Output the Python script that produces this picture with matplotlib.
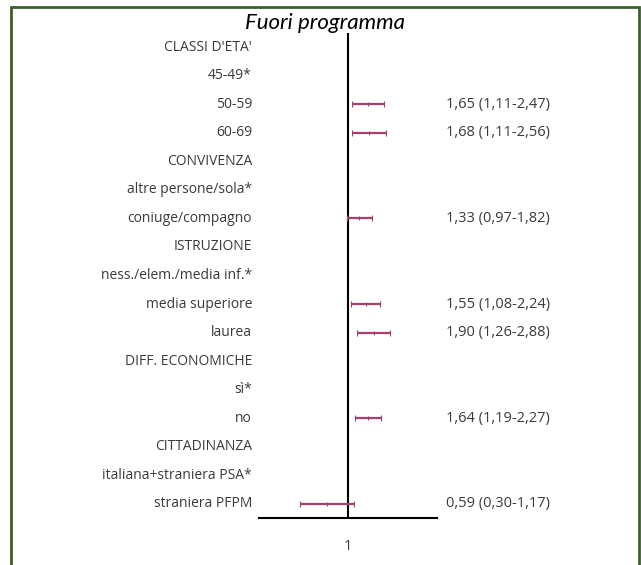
import numpy as np
import matplotlib.pyplot as plt
from matplotlib.patches import Rectangle

righe = ["CLASSI D'ETA'", "45-49*", "50-59", "60-69",
         "CONVIVENZA", "altre persone/sola*", "coniuge/compagno",
         "ISTRUZIONE", "ness./elem./media inf.*", "media superiore", "laurea",
         "DIFF. ECONOMICHE", "sì*", "no",
         "CITTADINANZA", "italiana+straniera PSA*", "straniera PFPM"]
nan = np.nan
odds_ratio = [nan, nan, 1.65, 1.68, nan, nan, 1.33, nan, nan, 1.55, 1.90, nan, nan, 1.64, nan, nan, 0.59]
ic_inf = [nan, nan, 1.11, 1.11, nan, nan, 0.97, nan, nan, 1.08, 1.26, nan, nan, 1.19, nan, nan, 0.30]
ic_sup = [nan, nan, 2.47, 2.56, nan, nan, 1.82, nan, nan, 2.24, 2.88, nan, nan, 2.27, nan, nan, 1.17]

def virgola(v):
    return f"{v:.2f}".replace(".", ",")

W, H = 641, 565
fig = plt.figure(figsize=(W / 100, H / 100), dpi=100)
ax = fig.add_axes([259 / W, 1 - 518 / H, 178 / W, 485 / H])

font = "Open Sans"
col_testo = "#3a3a3a"
col_barre = "#a4406e"

y = np.arange(len(righe))
orv = np.array(odds_ratio)
lo = np.array(ic_inf)
hi = np.array(ic_sup)
ok = ~np.isnan(orv)
ax.errorbar(orv[ok], y[ok], xerr=[orv[ok] - lo[ok], hi[ok] - orv[ok]],
            fmt="|", color=col_barre, ecolor=col_barre, markersize=3, mew=0.8,
            elinewidth=1.6, capsize=2, capthick=1.2, zorder=3)
ax.axvline(1, color="black", lw=1.5, zorder=2)

ax.set_xscale("log")
ax.set_xlim(0.108, 9.26)
ax.set_ylim(len(righe) - 0.5, -0.5)
ax.set_xticks([1])
ax.set_xticklabels(["1"], fontsize=10.5, family=font, color=col_testo)
ax.xaxis.set_minor_locator(plt.NullLocator())
ax.tick_params(axis="x", length=0, pad=15)
ax.set_yticks([])
for s in ["left", "right", "top"]:
    ax.spines[s].set_visible(False)
ax.spines["bottom"].set_linewidth(1.5)

tr = ax.get_yaxis_transform()
for i, lab in enumerate(righe):
    ax.text(-7 / 178, i, lab, transform=tr, ha="right", va="center",
            fontsize=10, family=font, color=col_testo)
    if ok[i]:
        txt = f"{virgola(orv[i])} ({virgola(lo[i])}-{virgola(hi[i])})"
        ax.text(187 / 178, i, txt, transform=tr, ha="left", va="center",
                fontsize=10.5, family=font, color=col_testo)

fig.text(325 / W, 1 - 23 / H, "Fuori programma", ha="center", va="center",
         fontsize=16, style="italic", family="Lato", color="black")

fig.patches.append(Rectangle((11 / W, -0.05), 628 / W, 1.05 - 6.5 / H,
                             transform=fig.transFigure, fill=False,
                             edgecolor="#3e5f2b", lw=2, clip_on=False))

fig.savefig("out.png", dpi=100)
